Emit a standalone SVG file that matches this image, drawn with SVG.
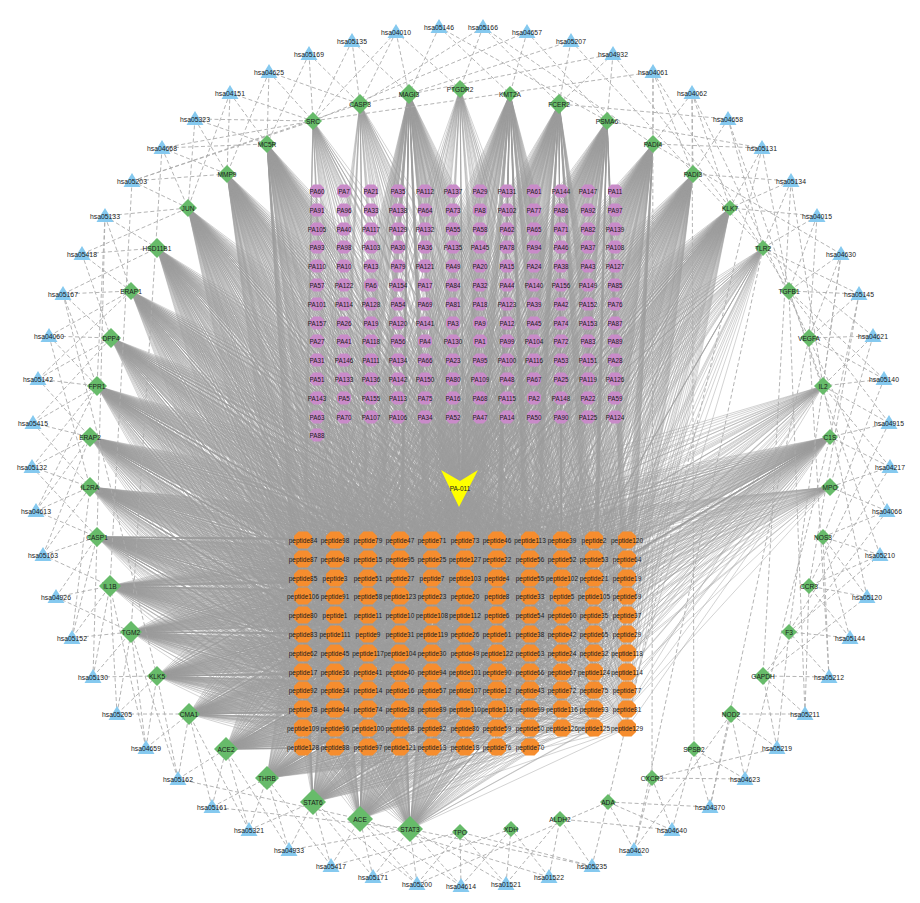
<svg xmlns="http://www.w3.org/2000/svg" xmlns:xlink="http://www.w3.org/1999/xlink" width="920" height="903" viewBox="0 0 920 903">
<style>
text{font-family:'Liberation Sans',Arial,sans-serif;text-anchor:middle;dominant-baseline:central;fill:#1a1a1a}
.pa use{fill:#c98bc9}.pa text{font-size:6.3px}
.pe use{fill:#f68d2e}.pe text{font-size:6.5px}
.tg path{fill:#67bb6a}.tg text{font-size:6.6px}
.pw use{fill:#85c9ef}.pw text{font-size:6.8px}
.fan{fill:none;stroke:#9d9d9d;stroke-width:.45}
.dash{fill:none;stroke:#ababab;stroke-width:.9;stroke-dasharray:4 2.5}
</style>
<defs>
<path id="h" d="M-3.5-6.5h7l3.5 3.5v6l-3.5 3.5h-7l-3.5-3.5v-6z"/>
<path id="o" d="M-4.5-8.5h9l4.5 4.5v8l-4.5 4.5h-9l-4.5-4.5v-8z"/>
<path id="t" d="M0-8l8.5 14h-17z"/>
<path id="O" class="fan" vector-effect="non-scaling-stroke" d="M0 0L303 1M0 0L335 1M0 0L368 1M0 0L400 1M0 0L432 1M0 0L465 1M0 0L497 1M0 0L530 1M0 0L562 1M0 0L594 1M0 0L627 1"/>
<path id="Q" class="fan" vector-effect="non-scaling-stroke" d="M0 0L303 1M0 0L335 1M0 0L368 1M0 0L400 1M0 0L432 1M0 0L465 1M0 0L497 1M0 0L530 1"/>
<path id="P" class="fan" vector-effect="non-scaling-stroke" d="M0 0L317 1M0 0L344 1M0 0L371 1M0 0L398 1M0 0L425 1M0 0L453 1M0 0L480 1M0 0L507 1M0 0L534 1M0 0L561 1M0 0L588 1M0 0L615 1"/>
</defs>
<rect width="920" height="903" fill="#fff"/>
<g id="connectors">
<g id="fans">
<use href="#P" transform="matrix(1 0 -460 -297 460 488)"/><use href="#P" transform="matrix(1 0 -460 -278 460 488)"/><use href="#P" transform="matrix(1 0 -460 -259 460 488)"/><use href="#P" transform="matrix(1 0 -460 -241 460 488)"/><use href="#P" transform="matrix(1 0 -460 -222 460 488)"/><use href="#P" transform="matrix(1 0 -460 -203 460 488)"/><use href="#P" transform="matrix(1 0 -460 -184 460 488)"/><use href="#P" transform="matrix(1 0 -460 -165 460 488)"/><use href="#P" transform="matrix(1 0 -460 -147 460 488)"/><use href="#P" transform="matrix(1 0 -460 -128 460 488)"/><use href="#P" transform="matrix(1 0 -460 -109 460 488)"/><use href="#P" transform="matrix(1 0 -460 -90 460 488)"/><use href="#P" transform="matrix(1 0 -460 -71 460 488)"/>
<path class="fan" d="M460 488L317 435"/>
<use href="#O" transform="matrix(1 0 -460 52 460 488)"/><use href="#O" transform="matrix(1 0 -460 71 460 488)"/><use href="#O" transform="matrix(1 0 -460 90 460 488)"/><use href="#O" transform="matrix(1 0 -460 108 460 488)"/><use href="#O" transform="matrix(1 0 -460 127 460 488)"/><use href="#O" transform="matrix(1 0 -460 146 460 488)"/><use href="#O" transform="matrix(1 0 -460 165 460 488)"/><use href="#O" transform="matrix(1 0 -460 184 460 488)"/><use href="#O" transform="matrix(1 0 -460 202 460 488)"/><use href="#O" transform="matrix(1 0 -460 221 460 488)"/><use href="#O" transform="matrix(1 0 -460 240 460 488)"/><use href="#Q" transform="matrix(1 0 -460 259 460 488)"/>
<use href="#O" transform="matrix(1 0 -131 249 131 291)"/><use href="#O" transform="matrix(1 0 -131 268 131 291)"/><use href="#O" transform="matrix(1 0 -131 287 131 291)"/><use href="#O" transform="matrix(1 0 -131 305 131 291)"/><use href="#O" transform="matrix(1 0 -131 324 131 291)"/><use href="#O" transform="matrix(1 0 -131 343 131 291)"/><use href="#O" transform="matrix(1 0 -131 362 131 291)"/><use href="#O" transform="matrix(1 0 -131 381 131 291)"/><use href="#O" transform="matrix(1 0 -131 399 131 291)"/><use href="#O" transform="matrix(1 0 -131 418 131 291)"/><use href="#O" transform="matrix(1 0 -131 437 131 291)"/><use href="#Q" transform="matrix(1 0 -131 456 131 291)"/>
<use href="#O" transform="matrix(1 0 -111 202 111 338)"/><use href="#O" transform="matrix(1 0 -111 221 111 338)"/><use href="#O" transform="matrix(1 0 -111 240 111 338)"/><use href="#O" transform="matrix(1 0 -111 258 111 338)"/><use href="#O" transform="matrix(1 0 -111 277 111 338)"/><use href="#O" transform="matrix(1 0 -111 296 111 338)"/><use href="#O" transform="matrix(1 0 -111 315 111 338)"/><use href="#O" transform="matrix(1 0 -111 334 111 338)"/><use href="#O" transform="matrix(1 0 -111 352 111 338)"/><use href="#O" transform="matrix(1 0 -111 371 111 338)"/><use href="#O" transform="matrix(1 0 -111 390 111 338)"/><use href="#Q" transform="matrix(1 0 -111 409 111 338)"/>
<use href="#O" transform="matrix(1 0 -97 154 97 386)"/><use href="#O" transform="matrix(1 0 -97 173 97 386)"/><use href="#O" transform="matrix(1 0 -97 192 97 386)"/><use href="#O" transform="matrix(1 0 -97 210 97 386)"/><use href="#O" transform="matrix(1 0 -97 229 97 386)"/><use href="#O" transform="matrix(1 0 -97 248 97 386)"/><use href="#O" transform="matrix(1 0 -97 267 97 386)"/><use href="#O" transform="matrix(1 0 -97 286 97 386)"/><use href="#O" transform="matrix(1 0 -97 304 97 386)"/><use href="#O" transform="matrix(1 0 -97 323 97 386)"/><use href="#O" transform="matrix(1 0 -97 342 97 386)"/><use href="#Q" transform="matrix(1 0 -97 361 97 386)"/>
<use href="#O" transform="matrix(1 0 -90 103 90 437)"/><use href="#O" transform="matrix(1 0 -90 122 90 437)"/><use href="#O" transform="matrix(1 0 -90 141 90 437)"/><use href="#O" transform="matrix(1 0 -90 159 90 437)"/><use href="#O" transform="matrix(1 0 -90 178 90 437)"/><use href="#O" transform="matrix(1 0 -90 197 90 437)"/><use href="#O" transform="matrix(1 0 -90 216 90 437)"/><use href="#O" transform="matrix(1 0 -90 235 90 437)"/><use href="#O" transform="matrix(1 0 -90 253 90 437)"/><use href="#O" transform="matrix(1 0 -90 272 90 437)"/><use href="#O" transform="matrix(1 0 -90 291 90 437)"/><use href="#Q" transform="matrix(1 0 -90 310 90 437)"/>
<use href="#O" transform="matrix(1 0 -90 53 90 487)"/><use href="#O" transform="matrix(1 0 -90 72 90 487)"/><use href="#O" transform="matrix(1 0 -90 91 90 487)"/><use href="#O" transform="matrix(1 0 -90 109 90 487)"/><use href="#O" transform="matrix(1 0 -90 128 90 487)"/><use href="#O" transform="matrix(1 0 -90 147 90 487)"/><use href="#O" transform="matrix(1 0 -90 166 90 487)"/><use href="#O" transform="matrix(1 0 -90 185 90 487)"/><use href="#O" transform="matrix(1 0 -90 203 90 487)"/><use href="#O" transform="matrix(1 0 -90 222 90 487)"/><use href="#O" transform="matrix(1 0 -90 241 90 487)"/><use href="#Q" transform="matrix(1 0 -90 260 90 487)"/>
<use href="#O" transform="matrix(1 0 -97 3 97 537)"/><use href="#O" transform="matrix(1 0 -97 22 97 537)"/><use href="#O" transform="matrix(1 0 -97 41 97 537)"/><use href="#O" transform="matrix(1 0 -97 59 97 537)"/><use href="#O" transform="matrix(1 0 -97 78 97 537)"/><use href="#O" transform="matrix(1 0 -97 97 97 537)"/><use href="#O" transform="matrix(1 0 -97 116 97 537)"/><use href="#O" transform="matrix(1 0 -97 135 97 537)"/><use href="#O" transform="matrix(1 0 -97 153 97 537)"/><use href="#O" transform="matrix(1 0 -97 172 97 537)"/><use href="#O" transform="matrix(1 0 -97 191 97 537)"/><use href="#Q" transform="matrix(1 0 -97 210 97 537)"/>
<use href="#O" transform="matrix(1 0 -110 -46 110 586)"/><use href="#O" transform="matrix(1 0 -110 -27 110 586)"/><use href="#O" transform="matrix(1 0 -110 -8 110 586)"/><use href="#O" transform="matrix(1 0 -110 10 110 586)"/><use href="#O" transform="matrix(1 0 -110 29 110 586)"/><use href="#O" transform="matrix(1 0 -110 48 110 586)"/><use href="#O" transform="matrix(1 0 -110 67 110 586)"/><use href="#O" transform="matrix(1 0 -110 86 110 586)"/><use href="#O" transform="matrix(1 0 -110 104 110 586)"/><use href="#O" transform="matrix(1 0 -110 123 110 586)"/><use href="#O" transform="matrix(1 0 -110 142 110 586)"/><use href="#Q" transform="matrix(1 0 -110 161 110 586)"/>
<use href="#O" transform="matrix(1 0 -131 -92 131 632)"/><use href="#O" transform="matrix(1 0 -131 -73 131 632)"/><use href="#O" transform="matrix(1 0 -131 -54 131 632)"/><use href="#O" transform="matrix(1 0 -131 -36 131 632)"/><use href="#O" transform="matrix(1 0 -131 -17 131 632)"/><use href="#O" transform="matrix(1 0 -131 2 131 632)"/><use href="#O" transform="matrix(1 0 -131 21 131 632)"/><use href="#O" transform="matrix(1 0 -131 40 131 632)"/><use href="#O" transform="matrix(1 0 -131 58 131 632)"/><use href="#O" transform="matrix(1 0 -131 77 131 632)"/><use href="#O" transform="matrix(1 0 -131 96 131 632)"/><use href="#Q" transform="matrix(1 0 -131 115 131 632)"/>
<use href="#O" transform="matrix(1 0 -157 -136 157 676)"/><use href="#O" transform="matrix(1 0 -157 -117 157 676)"/><use href="#O" transform="matrix(1 0 -157 -98 157 676)"/><use href="#O" transform="matrix(1 0 -157 -80 157 676)"/><use href="#O" transform="matrix(1 0 -157 -61 157 676)"/><use href="#O" transform="matrix(1 0 -157 -42 157 676)"/><use href="#O" transform="matrix(1 0 -157 -23 157 676)"/><use href="#O" transform="matrix(1 0 -157 -4 157 676)"/><use href="#O" transform="matrix(1 0 -157 14 157 676)"/><use href="#O" transform="matrix(1 0 -157 33 157 676)"/><use href="#O" transform="matrix(1 0 -157 52 157 676)"/><use href="#Q" transform="matrix(1 0 -157 71 157 676)"/>
<use href="#O" transform="matrix(1 0 -189 -174 189 714)"/><use href="#O" transform="matrix(1 0 -189 -155 189 714)"/><use href="#O" transform="matrix(1 0 -189 -136 189 714)"/><use href="#O" transform="matrix(1 0 -189 -118 189 714)"/><use href="#O" transform="matrix(1 0 -189 -99 189 714)"/><use href="#O" transform="matrix(1 0 -189 -80 189 714)"/><use href="#O" transform="matrix(1 0 -189 -61 189 714)"/><use href="#O" transform="matrix(1 0 -189 -42 189 714)"/><use href="#O" transform="matrix(1 0 -189 -24 189 714)"/><use href="#O" transform="matrix(1 0 -189 -5 189 714)"/><use href="#O" transform="matrix(1 0 -189 14 189 714)"/><use href="#Q" transform="matrix(1 0 -189 33 189 714)"/>
<use href="#O" transform="matrix(1 0 -226 -209 226 749)"/><use href="#O" transform="matrix(1 0 -226 -190 226 749)"/><use href="#O" transform="matrix(1 0 -226 -171 226 749)"/><use href="#O" transform="matrix(1 0 -226 -153 226 749)"/><use href="#O" transform="matrix(1 0 -226 -134 226 749)"/><use href="#O" transform="matrix(1 0 -226 -115 226 749)"/><use href="#O" transform="matrix(1 0 -226 -96 226 749)"/><use href="#O" transform="matrix(1 0 -226 -77 226 749)"/><use href="#O" transform="matrix(1 0 -226 -59 226 749)"/><use href="#O" transform="matrix(1 0 -226 -40 226 749)"/><use href="#O" transform="matrix(1 0 -226 -21 226 749)"/><use href="#Q" transform="matrix(1 0 -226 -2 226 749)"/>
<use href="#O" transform="matrix(1 0 -267 -238 267 778)"/><use href="#O" transform="matrix(1 0 -267 -219 267 778)"/><use href="#O" transform="matrix(1 0 -267 -200 267 778)"/><use href="#O" transform="matrix(1 0 -267 -182 267 778)"/><use href="#O" transform="matrix(1 0 -267 -163 267 778)"/><use href="#O" transform="matrix(1 0 -267 -144 267 778)"/><use href="#O" transform="matrix(1 0 -267 -125 267 778)"/><use href="#O" transform="matrix(1 0 -267 -106 267 778)"/><use href="#O" transform="matrix(1 0 -267 -88 267 778)"/><use href="#O" transform="matrix(1 0 -267 -69 267 778)"/><use href="#O" transform="matrix(1 0 -267 -50 267 778)"/><use href="#Q" transform="matrix(1 0 -267 -31 267 778)"/>
<use href="#O" transform="matrix(1 0 -313 -262 313 802)"/><use href="#O" transform="matrix(1 0 -313 -243 313 802)"/><use href="#O" transform="matrix(1 0 -313 -224 313 802)"/><use href="#O" transform="matrix(1 0 -313 -206 313 802)"/><use href="#O" transform="matrix(1 0 -313 -187 313 802)"/><use href="#O" transform="matrix(1 0 -313 -168 313 802)"/><use href="#O" transform="matrix(1 0 -313 -149 313 802)"/><use href="#O" transform="matrix(1 0 -313 -130 313 802)"/><use href="#O" transform="matrix(1 0 -313 -112 313 802)"/><use href="#O" transform="matrix(1 0 -313 -93 313 802)"/><use href="#O" transform="matrix(1 0 -313 -74 313 802)"/><use href="#Q" transform="matrix(1 0 -313 -55 313 802)"/>
<use href="#O" transform="matrix(1 0 -360 -279 360 819)"/><use href="#O" transform="matrix(1 0 -360 -260 360 819)"/><use href="#O" transform="matrix(1 0 -360 -241 360 819)"/><use href="#O" transform="matrix(1 0 -360 -223 360 819)"/><use href="#O" transform="matrix(1 0 -360 -204 360 819)"/><use href="#O" transform="matrix(1 0 -360 -185 360 819)"/><use href="#O" transform="matrix(1 0 -360 -166 360 819)"/><use href="#O" transform="matrix(1 0 -360 -147 360 819)"/><use href="#O" transform="matrix(1 0 -360 -129 360 819)"/><use href="#O" transform="matrix(1 0 -360 -110 360 819)"/><use href="#O" transform="matrix(1 0 -360 -91 360 819)"/><use href="#Q" transform="matrix(1 0 -360 -72 360 819)"/>
<use href="#O" transform="matrix(1 0 -410 -289 410 829)"/><use href="#O" transform="matrix(1 0 -410 -270 410 829)"/><use href="#O" transform="matrix(1 0 -410 -251 410 829)"/><use href="#O" transform="matrix(1 0 -410 -233 410 829)"/><use href="#O" transform="matrix(1 0 -410 -214 410 829)"/><use href="#O" transform="matrix(1 0 -410 -195 410 829)"/><use href="#O" transform="matrix(1 0 -410 -176 410 829)"/><use href="#O" transform="matrix(1 0 -410 -157 410 829)"/><use href="#O" transform="matrix(1 0 -410 -139 410 829)"/><use href="#O" transform="matrix(1 0 -410 -120 410 829)"/><use href="#O" transform="matrix(1 0 -410 -101 410 829)"/><use href="#Q" transform="matrix(1 0 -410 -82 410 829)"/>
<use href="#O" transform="matrix(1 0 -157 292 157 248)"/><use href="#O" transform="matrix(1 0 -157 311 157 248)"/><use href="#O" transform="matrix(1 0 -157 330 157 248)"/><use href="#O" transform="matrix(1 0 -157 348 157 248)"/><use href="#O" transform="matrix(1 0 -157 367 157 248)"/><use href="#O" transform="matrix(1 0 -157 386 157 248)"/><use href="#O" transform="matrix(1 0 -157 405 157 248)"/><use href="#O" transform="matrix(1 0 -157 424 157 248)"/><use href="#O" transform="matrix(1 0 -157 442 157 248)"/><use href="#O" transform="matrix(1 0 -157 461 157 248)"/><use href="#O" transform="matrix(1 0 -157 480 157 248)"/><use href="#Q" transform="matrix(1 0 -157 499 157 248)"/>
<use href="#O" transform="matrix(1 0 -188 332 188 208)"/><use href="#O" transform="matrix(1 0 -188 351 188 208)"/><use href="#O" transform="matrix(1 0 -188 370 188 208)"/><use href="#O" transform="matrix(1 0 -188 388 188 208)"/><use href="#O" transform="matrix(1 0 -188 407 188 208)"/><use href="#O" transform="matrix(1 0 -188 426 188 208)"/><use href="#O" transform="matrix(1 0 -188 445 188 208)"/><use href="#O" transform="matrix(1 0 -188 464 188 208)"/><use href="#O" transform="matrix(1 0 -188 482 188 208)"/><use href="#O" transform="matrix(1 0 -188 501 188 208)"/><use href="#O" transform="matrix(1 0 -188 520 188 208)"/><use href="#Q" transform="matrix(1 0 -188 539 188 208)"/>
<use href="#O" transform="matrix(1 0 -227 366 227 174)"/><use href="#O" transform="matrix(1 0 -227 385 227 174)"/><use href="#O" transform="matrix(1 0 -227 404 227 174)"/><use href="#O" transform="matrix(1 0 -227 422 227 174)"/><use href="#O" transform="matrix(1 0 -227 441 227 174)"/><use href="#O" transform="matrix(1 0 -227 460 227 174)"/><use href="#O" transform="matrix(1 0 -227 479 227 174)"/><use href="#O" transform="matrix(1 0 -227 498 227 174)"/><use href="#O" transform="matrix(1 0 -227 516 227 174)"/><use href="#O" transform="matrix(1 0 -227 535 227 174)"/><use href="#O" transform="matrix(1 0 -227 554 227 174)"/><use href="#Q" transform="matrix(1 0 -227 573 227 174)"/>
<use href="#O" transform="matrix(1 0 -267 396 267 144)"/><use href="#O" transform="matrix(1 0 -267 415 267 144)"/><use href="#O" transform="matrix(1 0 -267 434 267 144)"/><use href="#O" transform="matrix(1 0 -267 452 267 144)"/><use href="#O" transform="matrix(1 0 -267 471 267 144)"/><use href="#O" transform="matrix(1 0 -267 490 267 144)"/><use href="#O" transform="matrix(1 0 -267 509 267 144)"/><use href="#O" transform="matrix(1 0 -267 528 267 144)"/><use href="#O" transform="matrix(1 0 -267 546 267 144)"/><use href="#O" transform="matrix(1 0 -267 565 267 144)"/><use href="#O" transform="matrix(1 0 -267 584 267 144)"/><use href="#Q" transform="matrix(1 0 -267 603 267 144)"/>
<use href="#O" transform="matrix(1 0 -409 446 409 94)"/><use href="#O" transform="matrix(1 0 -409 465 409 94)"/><use href="#O" transform="matrix(1 0 -409 484 409 94)"/><use href="#O" transform="matrix(1 0 -409 502 409 94)"/><use href="#O" transform="matrix(1 0 -409 521 409 94)"/><use href="#O" transform="matrix(1 0 -409 540 409 94)"/><use href="#O" transform="matrix(1 0 -409 559 409 94)"/><use href="#O" transform="matrix(1 0 -409 578 409 94)"/><use href="#O" transform="matrix(1 0 -409 596 409 94)"/><use href="#O" transform="matrix(1 0 -409 615 409 94)"/><use href="#O" transform="matrix(1 0 -409 634 409 94)"/><use href="#Q" transform="matrix(1 0 -409 653 409 94)"/>
<use href="#O" transform="matrix(1 0 -510 446 510 94)"/><use href="#O" transform="matrix(1 0 -510 465 510 94)"/><use href="#O" transform="matrix(1 0 -510 484 510 94)"/><use href="#O" transform="matrix(1 0 -510 502 510 94)"/><use href="#O" transform="matrix(1 0 -510 521 510 94)"/><use href="#O" transform="matrix(1 0 -510 540 510 94)"/><use href="#O" transform="matrix(1 0 -510 559 510 94)"/><use href="#O" transform="matrix(1 0 -510 578 510 94)"/><use href="#O" transform="matrix(1 0 -510 596 510 94)"/><use href="#O" transform="matrix(1 0 -510 615 510 94)"/><use href="#O" transform="matrix(1 0 -510 634 510 94)"/><use href="#Q" transform="matrix(1 0 -510 653 510 94)"/>
<use href="#O" transform="matrix(1 0 -559 436 559 104)"/><use href="#O" transform="matrix(1 0 -559 455 559 104)"/><use href="#O" transform="matrix(1 0 -559 474 559 104)"/><use href="#O" transform="matrix(1 0 -559 492 559 104)"/><use href="#O" transform="matrix(1 0 -559 511 559 104)"/><use href="#O" transform="matrix(1 0 -559 530 559 104)"/><use href="#O" transform="matrix(1 0 -559 549 559 104)"/><use href="#O" transform="matrix(1 0 -559 568 559 104)"/><use href="#O" transform="matrix(1 0 -559 586 559 104)"/><use href="#O" transform="matrix(1 0 -559 605 559 104)"/><use href="#O" transform="matrix(1 0 -559 624 559 104)"/><use href="#Q" transform="matrix(1 0 -559 643 559 104)"/>
<use href="#O" transform="matrix(1 0 -607 419 607 121)"/><use href="#O" transform="matrix(1 0 -607 438 607 121)"/><use href="#O" transform="matrix(1 0 -607 457 607 121)"/><use href="#O" transform="matrix(1 0 -607 475 607 121)"/><use href="#O" transform="matrix(1 0 -607 494 607 121)"/><use href="#O" transform="matrix(1 0 -607 513 607 121)"/><use href="#O" transform="matrix(1 0 -607 532 607 121)"/><use href="#O" transform="matrix(1 0 -607 551 607 121)"/><use href="#O" transform="matrix(1 0 -607 569 607 121)"/><use href="#O" transform="matrix(1 0 -607 588 607 121)"/><use href="#O" transform="matrix(1 0 -607 607 607 121)"/><use href="#Q" transform="matrix(1 0 -607 626 607 121)"/>
<use href="#O" transform="matrix(1 0 -653 396 653 144)"/><use href="#O" transform="matrix(1 0 -653 415 653 144)"/><use href="#O" transform="matrix(1 0 -653 434 653 144)"/><use href="#O" transform="matrix(1 0 -653 452 653 144)"/><use href="#O" transform="matrix(1 0 -653 471 653 144)"/><use href="#O" transform="matrix(1 0 -653 490 653 144)"/><use href="#O" transform="matrix(1 0 -653 509 653 144)"/><use href="#O" transform="matrix(1 0 -653 528 653 144)"/><use href="#O" transform="matrix(1 0 -653 546 653 144)"/><use href="#O" transform="matrix(1 0 -653 565 653 144)"/><use href="#O" transform="matrix(1 0 -653 584 653 144)"/><use href="#Q" transform="matrix(1 0 -653 603 653 144)"/>
<use href="#O" transform="matrix(1 0 -693 366 693 174)"/><use href="#O" transform="matrix(1 0 -693 385 693 174)"/><use href="#O" transform="matrix(1 0 -693 404 693 174)"/><use href="#O" transform="matrix(1 0 -693 422 693 174)"/><use href="#O" transform="matrix(1 0 -693 441 693 174)"/><use href="#O" transform="matrix(1 0 -693 460 693 174)"/><use href="#O" transform="matrix(1 0 -693 479 693 174)"/><use href="#O" transform="matrix(1 0 -693 498 693 174)"/><use href="#O" transform="matrix(1 0 -693 516 693 174)"/><use href="#O" transform="matrix(1 0 -693 535 693 174)"/><use href="#O" transform="matrix(1 0 -693 554 693 174)"/><use href="#Q" transform="matrix(1 0 -693 573 693 174)"/>
<use href="#O" transform="matrix(1 0 -730 332 730 208)"/><use href="#O" transform="matrix(1 0 -730 351 730 208)"/><use href="#O" transform="matrix(1 0 -730 370 730 208)"/><use href="#O" transform="matrix(1 0 -730 388 730 208)"/><use href="#O" transform="matrix(1 0 -730 407 730 208)"/><use href="#O" transform="matrix(1 0 -730 426 730 208)"/><use href="#O" transform="matrix(1 0 -730 445 730 208)"/><use href="#O" transform="matrix(1 0 -730 464 730 208)"/><use href="#O" transform="matrix(1 0 -730 482 730 208)"/><use href="#O" transform="matrix(1 0 -730 501 730 208)"/><use href="#O" transform="matrix(1 0 -730 520 730 208)"/><use href="#Q" transform="matrix(1 0 -730 539 730 208)"/>
<use href="#O" transform="matrix(1 0 -830 103 830 437)"/><use href="#O" transform="matrix(1 0 -830 122 830 437)"/><use href="#O" transform="matrix(1 0 -830 141 830 437)"/><use href="#O" transform="matrix(1 0 -830 159 830 437)"/><use href="#O" transform="matrix(1 0 -830 178 830 437)"/><use href="#O" transform="matrix(1 0 -830 197 830 437)"/><use href="#O" transform="matrix(1 0 -830 216 830 437)"/><use href="#O" transform="matrix(1 0 -830 235 830 437)"/><use href="#O" transform="matrix(1 0 -830 253 830 437)"/><use href="#O" transform="matrix(1 0 -830 272 830 437)"/><use href="#O" transform="matrix(1 0 -830 291 830 437)"/><use href="#Q" transform="matrix(1 0 -830 310 830 437)"/>
<use href="#O" transform="matrix(1 0 -313 419 313 121)"/><use href="#O" transform="matrix(1 0 -313 475 313 121)"/><use href="#O" transform="matrix(1 0 -313 532 313 121)"/><use href="#O" transform="matrix(1 0 -313 588 313 121)"/>
<use href="#O" transform="matrix(1 0 -360 436 360 104)"/><use href="#O" transform="matrix(1 0 -360 492 360 104)"/><use href="#O" transform="matrix(1 0 -360 549 360 104)"/><use href="#O" transform="matrix(1 0 -360 605 360 104)"/>
<use href="#O" transform="matrix(1 0 -460 451 460 89)"/><use href="#O" transform="matrix(1 0 -460 507 460 89)"/><use href="#O" transform="matrix(1 0 -460 564 460 89)"/><use href="#O" transform="matrix(1 0 -460 620 460 89)"/>
<use href="#O" transform="matrix(1 0 -763 292 763 248)"/><use href="#O" transform="matrix(1 0 -763 348 763 248)"/><use href="#O" transform="matrix(1 0 -763 405 763 248)"/><use href="#O" transform="matrix(1 0 -763 461 763 248)"/>
<use href="#O" transform="matrix(1 0 -830 53 830 487)"/><use href="#O" transform="matrix(1 0 -830 109 830 487)"/><use href="#O" transform="matrix(1 0 -830 166 830 487)"/><use href="#O" transform="matrix(1 0 -830 222 830 487)"/>
<use href="#O" transform="matrix(1 0 -823 154 823 386)"/><use href="#O" transform="matrix(1 0 -823 210 823 386)"/><use href="#O" transform="matrix(1 0 -823 267 823 386)"/><use href="#O" transform="matrix(1 0 -823 323 823 386)"/>
</g>
<path id="pathway-edges" class="dash" d="M439 27L409 94M439 27L510 94M439 27L607 121M483 27L460 89M483 27L559 104M483 27L360 104M483 27L653 144M527 32L510 94M527 32L313 121M527 32L607 121M571 41L559 104M571 41L409 94M571 41L763 248M613 54L607 121M613 54L360 104M613 54L730 208M613 54L559 104M653 72L653 144M653 72L693 174M653 72L789 291M653 72L313 121M653 72L652 778M692 93L653 144M692 93L693 174M692 93L730 208M692 93L809 338M692 93L694 749M728 119L693 174M728 119L559 104M728 119L763 248M728 119L823 386M762 148L730 208M762 148L653 144M762 148L607 121M762 148L789 291M762 148L608 802M791 181L763 248M791 181L730 208M791 181L823 386M791 181L693 174M791 181L763 676M817 216L763 248M817 216L789 291M817 216L809 338M817 216L730 208M841 254L789 291M841 254L823 386M841 254L809 338M841 254L653 144M841 254L789 632M859 294L789 291M859 294L809 338M859 294L763 248M859 294L830 437M859 294L809 586M873 336L809 338M873 336L823 386M873 336L763 248M873 336L830 487M884 379L823 386M884 379L809 338M884 379L789 291M884 379L823 537M889 423L823 386M889 423L830 437M889 423L789 291M889 423L809 586M890 467L830 487M890 467L830 437M890 467L823 386M890 467L789 632M887 511L823 537M887 511L830 487M887 511L809 338M887 511L763 676M880 555L823 537M880 555L809 586M880 555L789 291M880 555L789 632M867 597L809 586M867 597L823 537M867 597L823 386M867 597L763 676M850 638L789 632M850 638L809 586M850 638L823 537M829 677L763 676M829 677L789 632M829 677L823 537M829 677L809 338M805 714L763 676M805 714L809 586M805 714L731 714M805 714L789 291M777 748L789 632M777 748L763 676M777 748L731 714M777 748L652 778M745 779L731 714M745 779L694 749M745 779L652 778M745 779L830 437M710 807L731 714M710 807L694 749M710 807L608 802M710 807L809 338M672 830L652 778M672 830L694 749M672 830L608 802M672 830L560 819M634 850L652 778M634 850L608 802M634 850L763 248M634 850L731 714M592 866L560 819M592 866L608 802M592 866L410 829M592 866L460 832M549 877L560 819M549 877L511 829M549 877L360 819M506 884L511 829M506 884L460 832M506 884L410 829M506 884L560 819M461 886L460 832M461 886L410 829M461 886L511 829M461 886L360 819M417 884L410 829M417 884L360 819M417 884L460 832M417 884L608 802M417 884L313 802M373 877L360 819M373 877L410 829M373 877L313 802M373 877L511 829M331 866L313 802M331 866L360 819M331 866L267 778M331 866L460 832M289 850L267 778M289 850L313 802M289 850L226 749M289 850L410 829M249 830L267 778M249 830L226 749M249 830L313 802M249 830L189 714M212 807L226 749M212 807L267 778M212 807L189 714M212 807L410 829M178 779L189 714M178 779L226 749M178 779L157 676M178 779L131 632M178 779L360 819M146 748L189 714M146 748L157 676M146 748L131 632M146 748L110 586M117 714L157 676M117 714L131 632M117 714L189 714M117 714L110 586M93 677L157 676M93 677L131 632M93 677L110 586M93 677L97 537M72 638L131 632M72 638L110 586M72 638L97 537M72 638L90 487M56 597L110 586M56 597L97 537M56 597L131 632M43 555L97 537M43 555L110 586M43 555L90 487M43 555L90 437M36 511L90 487M36 511L97 537M36 511L90 437M36 511L97 386M32 467L90 487M32 467L90 437M32 467L97 386M32 467L97 537M33 423L90 437M33 423L97 386M33 423L111 338M33 423L90 487M38 379L97 386M38 379L111 338M38 379L90 437M38 379L131 291M49 336L111 338M49 336L97 386M49 336L131 291M49 336L90 487M63 294L131 291M63 294L111 338M63 294L157 248M63 294L97 386M63 294L157 676M82 254L157 248M82 254L131 291M82 254L188 208M82 254L111 338M105 216L188 208M105 216L157 248M105 216L131 291M105 216L97 386M105 216L97 537M132 181L188 208M132 181L227 174M132 181L313 121M132 181L360 104M132 181L110 586M162 148L227 174M162 148L267 144M162 148L188 208M162 148L313 121M162 148L131 632M195 119L267 144M195 119L227 174M195 119L313 121M195 119L188 208M230 93L267 144M230 93L313 121M230 93L227 174M230 93L188 208M269 72L313 121M269 72L267 144M269 72L360 104M269 72L227 174M309 54L313 121M309 54L360 104M309 54L267 144M352 41L360 104M352 41L313 121M352 41L409 94M396 32L409 94M396 32L360 104M396 32L460 89M396 32L313 121"/>
</g>
<g id="PA-011"><polygon points="441,470 460,481 478,470 459,507" fill="#ffff00"/><text x="460" y="488" style="font-size:6.5px">PA-011</text></g>
<g class="pa">
<g id="PA60" transform="translate(317 191)"><use href="#h"/><text>PA60</text></g><g id="PA7" transform="translate(344 191)"><use href="#h"/><text>PA7</text></g><g id="PA21" transform="translate(371 191)"><use href="#h"/><text>PA21</text></g><g id="PA35" transform="translate(398 191)"><use href="#h"/><text>PA35</text></g><g id="PA112" transform="translate(425 191)"><use href="#h"/><text>PA112</text></g><g id="PA137" transform="translate(453 191)"><use href="#h"/><text>PA137</text></g><g id="PA29" transform="translate(480 191)"><use href="#h"/><text>PA29</text></g><g id="PA131" transform="translate(507 191)"><use href="#h"/><text>PA131</text></g><g id="PA61" transform="translate(534 191)"><use href="#h"/><text>PA61</text></g><g id="PA144" transform="translate(561 191)"><use href="#h"/><text>PA144</text></g><g id="PA147" transform="translate(588 191)"><use href="#h"/><text>PA147</text></g><g id="PA11" transform="translate(615 191)"><use href="#h"/><text>PA11</text></g>
<g id="PA91" transform="translate(317 210)"><use href="#h"/><text>PA91</text></g><g id="PA96" transform="translate(344 210)"><use href="#h"/><text>PA96</text></g><g id="PA33" transform="translate(371 210)"><use href="#h"/><text>PA33</text></g><g id="PA138" transform="translate(398 210)"><use href="#h"/><text>PA138</text></g><g id="PA64" transform="translate(425 210)"><use href="#h"/><text>PA64</text></g><g id="PA73" transform="translate(453 210)"><use href="#h"/><text>PA73</text></g><g id="PA8" transform="translate(480 210)"><use href="#h"/><text>PA8</text></g><g id="PA102" transform="translate(507 210)"><use href="#h"/><text>PA102</text></g><g id="PA77" transform="translate(534 210)"><use href="#h"/><text>PA77</text></g><g id="PA86" transform="translate(561 210)"><use href="#h"/><text>PA86</text></g><g id="PA92" transform="translate(588 210)"><use href="#h"/><text>PA92</text></g><g id="PA97" transform="translate(615 210)"><use href="#h"/><text>PA97</text></g>
<g id="PA105" transform="translate(317 229)"><use href="#h"/><text>PA105</text></g><g id="PA40" transform="translate(344 229)"><use href="#h"/><text>PA40</text></g><g id="PA117" transform="translate(371 229)"><use href="#h"/><text>PA117</text></g><g id="PA129" transform="translate(398 229)"><use href="#h"/><text>PA129</text></g><g id="PA132" transform="translate(425 229)"><use href="#h"/><text>PA132</text></g><g id="PA55" transform="translate(453 229)"><use href="#h"/><text>PA55</text></g><g id="PA58" transform="translate(480 229)"><use href="#h"/><text>PA58</text></g><g id="PA62" transform="translate(507 229)"><use href="#h"/><text>PA62</text></g><g id="PA65" transform="translate(534 229)"><use href="#h"/><text>PA65</text></g><g id="PA71" transform="translate(561 229)"><use href="#h"/><text>PA71</text></g><g id="PA82" transform="translate(588 229)"><use href="#h"/><text>PA82</text></g><g id="PA139" transform="translate(615 229)"><use href="#h"/><text>PA139</text></g>
<g id="PA93" transform="translate(317 247)"><use href="#h"/><text>PA93</text></g><g id="PA98" transform="translate(344 247)"><use href="#h"/><text>PA98</text></g><g id="PA103" transform="translate(371 247)"><use href="#h"/><text>PA103</text></g><g id="PA30" transform="translate(398 247)"><use href="#h"/><text>PA30</text></g><g id="PA36" transform="translate(425 247)"><use href="#h"/><text>PA36</text></g><g id="PA135" transform="translate(453 247)"><use href="#h"/><text>PA135</text></g><g id="PA145" transform="translate(480 247)"><use href="#h"/><text>PA145</text></g><g id="PA78" transform="translate(507 247)"><use href="#h"/><text>PA78</text></g><g id="PA94" transform="translate(534 247)"><use href="#h"/><text>PA94</text></g><g id="PA46" transform="translate(561 247)"><use href="#h"/><text>PA46</text></g><g id="PA37" transform="translate(588 247)"><use href="#h"/><text>PA37</text></g><g id="PA108" transform="translate(615 247)"><use href="#h"/><text>PA108</text></g>
<g id="PA110" transform="translate(317 266)"><use href="#h"/><text>PA110</text></g><g id="PA10" transform="translate(344 266)"><use href="#h"/><text>PA10</text></g><g id="PA13" transform="translate(371 266)"><use href="#h"/><text>PA13</text></g><g id="PA79" transform="translate(398 266)"><use href="#h"/><text>PA79</text></g><g id="PA121" transform="translate(425 266)"><use href="#h"/><text>PA121</text></g><g id="PA49" transform="translate(453 266)"><use href="#h"/><text>PA49</text></g><g id="PA20" transform="translate(480 266)"><use href="#h"/><text>PA20</text></g><g id="PA15" transform="translate(507 266)"><use href="#h"/><text>PA15</text></g><g id="PA24" transform="translate(534 266)"><use href="#h"/><text>PA24</text></g><g id="PA38" transform="translate(561 266)"><use href="#h"/><text>PA38</text></g><g id="PA43" transform="translate(588 266)"><use href="#h"/><text>PA43</text></g><g id="PA127" transform="translate(615 266)"><use href="#h"/><text>PA127</text></g>
<g id="PA57" transform="translate(317 285)"><use href="#h"/><text>PA57</text></g><g id="PA122" transform="translate(344 285)"><use href="#h"/><text>PA122</text></g><g id="PA6" transform="translate(371 285)"><use href="#h"/><text>PA6</text></g><g id="PA154" transform="translate(398 285)"><use href="#h"/><text>PA154</text></g><g id="PA17" transform="translate(425 285)"><use href="#h"/><text>PA17</text></g><g id="PA84" transform="translate(453 285)"><use href="#h"/><text>PA84</text></g><g id="PA32" transform="translate(480 285)"><use href="#h"/><text>PA32</text></g><g id="PA44" transform="translate(507 285)"><use href="#h"/><text>PA44</text></g><g id="PA140" transform="translate(534 285)"><use href="#h"/><text>PA140</text></g><g id="PA156" transform="translate(561 285)"><use href="#h"/><text>PA156</text></g><g id="PA149" transform="translate(588 285)"><use href="#h"/><text>PA149</text></g><g id="PA85" transform="translate(615 285)"><use href="#h"/><text>PA85</text></g>
<g id="PA101" transform="translate(317 304)"><use href="#h"/><text>PA101</text></g><g id="PA114" transform="translate(344 304)"><use href="#h"/><text>PA114</text></g><g id="PA128" transform="translate(371 304)"><use href="#h"/><text>PA128</text></g><g id="PA54" transform="translate(398 304)"><use href="#h"/><text>PA54</text></g><g id="PA69" transform="translate(425 304)"><use href="#h"/><text>PA69</text></g><g id="PA81" transform="translate(453 304)"><use href="#h"/><text>PA81</text></g><g id="PA18" transform="translate(480 304)"><use href="#h"/><text>PA18</text></g><g id="PA123" transform="translate(507 304)"><use href="#h"/><text>PA123</text></g><g id="PA39" transform="translate(534 304)"><use href="#h"/><text>PA39</text></g><g id="PA42" transform="translate(561 304)"><use href="#h"/><text>PA42</text></g><g id="PA152" transform="translate(588 304)"><use href="#h"/><text>PA152</text></g><g id="PA76" transform="translate(615 304)"><use href="#h"/><text>PA76</text></g>
<g id="PA157" transform="translate(317 323)"><use href="#h"/><text>PA157</text></g><g id="PA26" transform="translate(344 323)"><use href="#h"/><text>PA26</text></g><g id="PA19" transform="translate(371 323)"><use href="#h"/><text>PA19</text></g><g id="PA120" transform="translate(398 323)"><use href="#h"/><text>PA120</text></g><g id="PA141" transform="translate(425 323)"><use href="#h"/><text>PA141</text></g><g id="PA3" transform="translate(453 323)"><use href="#h"/><text>PA3</text></g><g id="PA9" transform="translate(480 323)"><use href="#h"/><text>PA9</text></g><g id="PA12" transform="translate(507 323)"><use href="#h"/><text>PA12</text></g><g id="PA45" transform="translate(534 323)"><use href="#h"/><text>PA45</text></g><g id="PA74" transform="translate(561 323)"><use href="#h"/><text>PA74</text></g><g id="PA153" transform="translate(588 323)"><use href="#h"/><text>PA153</text></g><g id="PA87" transform="translate(615 323)"><use href="#h"/><text>PA87</text></g>
<g id="PA27" transform="translate(317 341)"><use href="#h"/><text>PA27</text></g><g id="PA41" transform="translate(344 341)"><use href="#h"/><text>PA41</text></g><g id="PA118" transform="translate(371 341)"><use href="#h"/><text>PA118</text></g><g id="PA56" transform="translate(398 341)"><use href="#h"/><text>PA56</text></g><g id="PA4" transform="translate(425 341)"><use href="#h"/><text>PA4</text></g><g id="PA130" transform="translate(453 341)"><use href="#h"/><text>PA130</text></g><g id="PA1" transform="translate(480 341)"><use href="#h"/><text>PA1</text></g><g id="PA99" transform="translate(507 341)"><use href="#h"/><text>PA99</text></g><g id="PA104" transform="translate(534 341)"><use href="#h"/><text>PA104</text></g><g id="PA72" transform="translate(561 341)"><use href="#h"/><text>PA72</text></g><g id="PA83" transform="translate(588 341)"><use href="#h"/><text>PA83</text></g><g id="PA89" transform="translate(615 341)"><use href="#h"/><text>PA89</text></g>
<g id="PA31" transform="translate(317 360)"><use href="#h"/><text>PA31</text></g><g id="PA146" transform="translate(344 360)"><use href="#h"/><text>PA146</text></g><g id="PA111" transform="translate(371 360)"><use href="#h"/><text>PA111</text></g><g id="PA134" transform="translate(398 360)"><use href="#h"/><text>PA134</text></g><g id="PA66" transform="translate(425 360)"><use href="#h"/><text>PA66</text></g><g id="PA23" transform="translate(453 360)"><use href="#h"/><text>PA23</text></g><g id="PA95" transform="translate(480 360)"><use href="#h"/><text>PA95</text></g><g id="PA100" transform="translate(507 360)"><use href="#h"/><text>PA100</text></g><g id="PA116" transform="translate(534 360)"><use href="#h"/><text>PA116</text></g><g id="PA53" transform="translate(561 360)"><use href="#h"/><text>PA53</text></g><g id="PA151" transform="translate(588 360)"><use href="#h"/><text>PA151</text></g><g id="PA28" transform="translate(615 360)"><use href="#h"/><text>PA28</text></g>
<g id="PA51" transform="translate(317 379)"><use href="#h"/><text>PA51</text></g><g id="PA133" transform="translate(344 379)"><use href="#h"/><text>PA133</text></g><g id="PA136" transform="translate(371 379)"><use href="#h"/><text>PA136</text></g><g id="PA142" transform="translate(398 379)"><use href="#h"/><text>PA142</text></g><g id="PA150" transform="translate(425 379)"><use href="#h"/><text>PA150</text></g><g id="PA80" transform="translate(453 379)"><use href="#h"/><text>PA80</text></g><g id="PA109" transform="translate(480 379)"><use href="#h"/><text>PA109</text></g><g id="PA48" transform="translate(507 379)"><use href="#h"/><text>PA48</text></g><g id="PA67" transform="translate(534 379)"><use href="#h"/><text>PA67</text></g><g id="PA25" transform="translate(561 379)"><use href="#h"/><text>PA25</text></g><g id="PA119" transform="translate(588 379)"><use href="#h"/><text>PA119</text></g><g id="PA126" transform="translate(615 379)"><use href="#h"/><text>PA126</text></g>
<g id="PA143" transform="translate(317 398)"><use href="#h"/><text>PA143</text></g><g id="PA5" transform="translate(344 398)"><use href="#h"/><text>PA5</text></g><g id="PA155" transform="translate(371 398)"><use href="#h"/><text>PA155</text></g><g id="PA113" transform="translate(398 398)"><use href="#h"/><text>PA113</text></g><g id="PA75" transform="translate(425 398)"><use href="#h"/><text>PA75</text></g><g id="PA16" transform="translate(453 398)"><use href="#h"/><text>PA16</text></g><g id="PA68" transform="translate(480 398)"><use href="#h"/><text>PA68</text></g><g id="PA115" transform="translate(507 398)"><use href="#h"/><text>PA115</text></g><g id="PA2" transform="translate(534 398)"><use href="#h"/><text>PA2</text></g><g id="PA148" transform="translate(561 398)"><use href="#h"/><text>PA148</text></g><g id="PA22" transform="translate(588 398)"><use href="#h"/><text>PA22</text></g><g id="PA59" transform="translate(615 398)"><use href="#h"/><text>PA59</text></g>
<g id="PA63" transform="translate(317 417)"><use href="#h"/><text>PA63</text></g><g id="PA70" transform="translate(344 417)"><use href="#h"/><text>PA70</text></g><g id="PA107" transform="translate(371 417)"><use href="#h"/><text>PA107</text></g><g id="PA106" transform="translate(398 417)"><use href="#h"/><text>PA106</text></g><g id="PA34" transform="translate(425 417)"><use href="#h"/><text>PA34</text></g><g id="PA52" transform="translate(453 417)"><use href="#h"/><text>PA52</text></g><g id="PA47" transform="translate(480 417)"><use href="#h"/><text>PA47</text></g><g id="PA14" transform="translate(507 417)"><use href="#h"/><text>PA14</text></g><g id="PA50" transform="translate(534 417)"><use href="#h"/><text>PA50</text></g><g id="PA90" transform="translate(561 417)"><use href="#h"/><text>PA90</text></g><g id="PA125" transform="translate(588 417)"><use href="#h"/><text>PA125</text></g><g id="PA124" transform="translate(615 417)"><use href="#h"/><text>PA124</text></g>
<g id="PA88" transform="translate(317 435)"><use href="#h"/><text>PA88</text></g>
</g>
<g class="pe">
<g id="peptide84" transform="translate(303 540)"><use href="#o"/><text>peptide84</text></g><g id="peptide98" transform="translate(335 540)"><use href="#o"/><text>peptide98</text></g><g id="peptide79" transform="translate(368 540)"><use href="#o"/><text>peptide79</text></g><g id="peptide47" transform="translate(400 540)"><use href="#o"/><text>peptide47</text></g><g id="peptide71" transform="translate(432 540)"><use href="#o"/><text>peptide71</text></g><g id="peptide73" transform="translate(465 540)"><use href="#o"/><text>peptide73</text></g><g id="peptide46" transform="translate(497 540)"><use href="#o"/><text>peptide46</text></g><g id="peptide113" transform="translate(530 540)"><use href="#o"/><text>peptide113</text></g><g id="peptide39" transform="translate(562 540)"><use href="#o"/><text>peptide39</text></g><g id="peptide2" transform="translate(594 540)"><use href="#o"/><text>peptide2</text></g><g id="peptide120" transform="translate(627 540)"><use href="#o"/><text>peptide120</text></g>
<g id="peptide87" transform="translate(303 559)"><use href="#o"/><text>peptide87</text></g><g id="peptide48" transform="translate(335 559)"><use href="#o"/><text>peptide48</text></g><g id="peptide15" transform="translate(368 559)"><use href="#o"/><text>peptide15</text></g><g id="peptide95" transform="translate(400 559)"><use href="#o"/><text>peptide95</text></g><g id="peptide25" transform="translate(432 559)"><use href="#o"/><text>peptide25</text></g><g id="peptide127" transform="translate(465 559)"><use href="#o"/><text>peptide127</text></g><g id="peptide22" transform="translate(497 559)"><use href="#o"/><text>peptide22</text></g><g id="peptide56" transform="translate(530 559)"><use href="#o"/><text>peptide56</text></g><g id="peptide52" transform="translate(562 559)"><use href="#o"/><text>peptide52</text></g><g id="peptide53" transform="translate(594 559)"><use href="#o"/><text>peptide53</text></g><g id="peptide64" transform="translate(627 559)"><use href="#o"/><text>peptide64</text></g>
<g id="peptide85" transform="translate(303 578)"><use href="#o"/><text>peptide85</text></g><g id="peptide3" transform="translate(335 578)"><use href="#o"/><text>peptide3</text></g><g id="peptide51" transform="translate(368 578)"><use href="#o"/><text>peptide51</text></g><g id="peptide27" transform="translate(400 578)"><use href="#o"/><text>peptide27</text></g><g id="peptide7" transform="translate(432 578)"><use href="#o"/><text>peptide7</text></g><g id="peptide103" transform="translate(465 578)"><use href="#o"/><text>peptide103</text></g><g id="peptide4" transform="translate(497 578)"><use href="#o"/><text>peptide4</text></g><g id="peptide55" transform="translate(530 578)"><use href="#o"/><text>peptide55</text></g><g id="peptide102" transform="translate(562 578)"><use href="#o"/><text>peptide102</text></g><g id="peptide21" transform="translate(594 578)"><use href="#o"/><text>peptide21</text></g><g id="peptide19" transform="translate(627 578)"><use href="#o"/><text>peptide19</text></g>
<g id="peptide106" transform="translate(303 596)"><use href="#o"/><text>peptide106</text></g><g id="peptide91" transform="translate(335 596)"><use href="#o"/><text>peptide91</text></g><g id="peptide58" transform="translate(368 596)"><use href="#o"/><text>peptide58</text></g><g id="peptide123" transform="translate(400 596)"><use href="#o"/><text>peptide123</text></g><g id="peptide23" transform="translate(432 596)"><use href="#o"/><text>peptide23</text></g><g id="peptide20" transform="translate(465 596)"><use href="#o"/><text>peptide20</text></g><g id="peptide8" transform="translate(497 596)"><use href="#o"/><text>peptide8</text></g><g id="peptide33" transform="translate(530 596)"><use href="#o"/><text>peptide33</text></g><g id="peptide5" transform="translate(562 596)"><use href="#o"/><text>peptide5</text></g><g id="peptide105" transform="translate(594 596)"><use href="#o"/><text>peptide105</text></g><g id="peptide69" transform="translate(627 596)"><use href="#o"/><text>peptide69</text></g>
<g id="peptide80" transform="translate(303 615)"><use href="#o"/><text>peptide80</text></g><g id="peptide1" transform="translate(335 615)"><use href="#o"/><text>peptide1</text></g><g id="peptide11" transform="translate(368 615)"><use href="#o"/><text>peptide11</text></g><g id="peptide10" transform="translate(400 615)"><use href="#o"/><text>peptide10</text></g><g id="peptide108" transform="translate(432 615)"><use href="#o"/><text>peptide108</text></g><g id="peptide112" transform="translate(465 615)"><use href="#o"/><text>peptide112</text></g><g id="peptide6" transform="translate(497 615)"><use href="#o"/><text>peptide6</text></g><g id="peptide54" transform="translate(530 615)"><use href="#o"/><text>peptide54</text></g><g id="peptide60" transform="translate(562 615)"><use href="#o"/><text>peptide60</text></g><g id="peptide35" transform="translate(594 615)"><use href="#o"/><text>peptide35</text></g><g id="peptide37" transform="translate(627 615)"><use href="#o"/><text>peptide37</text></g>
<g id="peptide83" transform="translate(303 634)"><use href="#o"/><text>peptide83</text></g><g id="peptide111" transform="translate(335 634)"><use href="#o"/><text>peptide111</text></g><g id="peptide9" transform="translate(368 634)"><use href="#o"/><text>peptide9</text></g><g id="peptide31" transform="translate(400 634)"><use href="#o"/><text>peptide31</text></g><g id="peptide119" transform="translate(432 634)"><use href="#o"/><text>peptide119</text></g><g id="peptide26" transform="translate(465 634)"><use href="#o"/><text>peptide26</text></g><g id="peptide61" transform="translate(497 634)"><use href="#o"/><text>peptide61</text></g><g id="peptide38" transform="translate(530 634)"><use href="#o"/><text>peptide38</text></g><g id="peptide42" transform="translate(562 634)"><use href="#o"/><text>peptide42</text></g><g id="peptide65" transform="translate(594 634)"><use href="#o"/><text>peptide65</text></g><g id="peptide29" transform="translate(627 634)"><use href="#o"/><text>peptide29</text></g>
<g id="peptide62" transform="translate(303 653)"><use href="#o"/><text>peptide62</text></g><g id="peptide45" transform="translate(335 653)"><use href="#o"/><text>peptide45</text></g><g id="peptide117" transform="translate(368 653)"><use href="#o"/><text>peptide117</text></g><g id="peptide104" transform="translate(400 653)"><use href="#o"/><text>peptide104</text></g><g id="peptide30" transform="translate(432 653)"><use href="#o"/><text>peptide30</text></g><g id="peptide49" transform="translate(465 653)"><use href="#o"/><text>peptide49</text></g><g id="peptide122" transform="translate(497 653)"><use href="#o"/><text>peptide122</text></g><g id="peptide63" transform="translate(530 653)"><use href="#o"/><text>peptide63</text></g><g id="peptide24" transform="translate(562 653)"><use href="#o"/><text>peptide24</text></g><g id="peptide32" transform="translate(594 653)"><use href="#o"/><text>peptide32</text></g><g id="peptide118" transform="translate(627 653)"><use href="#o"/><text>peptide118</text></g>
<g id="peptide17" transform="translate(303 672)"><use href="#o"/><text>peptide17</text></g><g id="peptide36" transform="translate(335 672)"><use href="#o"/><text>peptide36</text></g><g id="peptide41" transform="translate(368 672)"><use href="#o"/><text>peptide41</text></g><g id="peptide40" transform="translate(400 672)"><use href="#o"/><text>peptide40</text></g><g id="peptide94" transform="translate(432 672)"><use href="#o"/><text>peptide94</text></g><g id="peptide101" transform="translate(465 672)"><use href="#o"/><text>peptide101</text></g><g id="peptide90" transform="translate(497 672)"><use href="#o"/><text>peptide90</text></g><g id="peptide66" transform="translate(530 672)"><use href="#o"/><text>peptide66</text></g><g id="peptide67" transform="translate(562 672)"><use href="#o"/><text>peptide67</text></g><g id="peptide124" transform="translate(594 672)"><use href="#o"/><text>peptide124</text></g><g id="peptide114" transform="translate(627 672)"><use href="#o"/><text>peptide114</text></g>
<g id="peptide92" transform="translate(303 690)"><use href="#o"/><text>peptide92</text></g><g id="peptide34" transform="translate(335 690)"><use href="#o"/><text>peptide34</text></g><g id="peptide14" transform="translate(368 690)"><use href="#o"/><text>peptide14</text></g><g id="peptide16" transform="translate(400 690)"><use href="#o"/><text>peptide16</text></g><g id="peptide57" transform="translate(432 690)"><use href="#o"/><text>peptide57</text></g><g id="peptide107" transform="translate(465 690)"><use href="#o"/><text>peptide107</text></g><g id="peptide12" transform="translate(497 690)"><use href="#o"/><text>peptide12</text></g><g id="peptide43" transform="translate(530 690)"><use href="#o"/><text>peptide43</text></g><g id="peptide72" transform="translate(562 690)"><use href="#o"/><text>peptide72</text></g><g id="peptide75" transform="translate(594 690)"><use href="#o"/><text>peptide75</text></g><g id="peptide77" transform="translate(627 690)"><use href="#o"/><text>peptide77</text></g>
<g id="peptide78" transform="translate(303 709)"><use href="#o"/><text>peptide78</text></g><g id="peptide44" transform="translate(335 709)"><use href="#o"/><text>peptide44</text></g><g id="peptide74" transform="translate(368 709)"><use href="#o"/><text>peptide74</text></g><g id="peptide28" transform="translate(400 709)"><use href="#o"/><text>peptide28</text></g><g id="peptide89" transform="translate(432 709)"><use href="#o"/><text>peptide89</text></g><g id="peptide110" transform="translate(465 709)"><use href="#o"/><text>peptide110</text></g><g id="peptide115" transform="translate(497 709)"><use href="#o"/><text>peptide115</text></g><g id="peptide99" transform="translate(530 709)"><use href="#o"/><text>peptide99</text></g><g id="peptide116" transform="translate(562 709)"><use href="#o"/><text>peptide116</text></g><g id="peptide93" transform="translate(594 709)"><use href="#o"/><text>peptide93</text></g><g id="peptide81" transform="translate(627 709)"><use href="#o"/><text>peptide81</text></g>
<g id="peptide109" transform="translate(303 728)"><use href="#o"/><text>peptide109</text></g><g id="peptide96" transform="translate(335 728)"><use href="#o"/><text>peptide96</text></g><g id="peptide100" transform="translate(368 728)"><use href="#o"/><text>peptide100</text></g><g id="peptide68" transform="translate(400 728)"><use href="#o"/><text>peptide68</text></g><g id="peptide82" transform="translate(432 728)"><use href="#o"/><text>peptide82</text></g><g id="peptide86" transform="translate(465 728)"><use href="#o"/><text>peptide86</text></g><g id="peptide59" transform="translate(497 728)"><use href="#o"/><text>peptide59</text></g><g id="peptide50" transform="translate(530 728)"><use href="#o"/><text>peptide50</text></g><g id="peptide126" transform="translate(562 728)"><use href="#o"/><text>peptide126</text></g><g id="peptide125" transform="translate(594 728)"><use href="#o"/><text>peptide125</text></g><g id="peptide129" transform="translate(627 728)"><use href="#o"/><text>peptide129</text></g>
<g id="peptide128" transform="translate(303 747)"><use href="#o"/><text>peptide128</text></g><g id="peptide88" transform="translate(335 747)"><use href="#o"/><text>peptide88</text></g><g id="peptide97" transform="translate(368 747)"><use href="#o"/><text>peptide97</text></g><g id="peptide121" transform="translate(400 747)"><use href="#o"/><text>peptide121</text></g><g id="peptide13" transform="translate(432 747)"><use href="#o"/><text>peptide13</text></g><g id="peptide18" transform="translate(465 747)"><use href="#o"/><text>peptide18</text></g><g id="peptide76" transform="translate(497 747)"><use href="#o"/><text>peptide76</text></g><g id="peptide70" transform="translate(530 747)"><use href="#o"/><text>peptide70</text></g>
</g>
<g class="tg">
<g id="SRC"><path d="M313 112l9 9-9 9-9-9z"/><text x="313" y="121">SRC</text></g>
<g id="CASP3"><path d="M360 94l10 10-10 10-10-10z"/><text x="360" y="104">CASP3</text></g>
<g id="MAGI3"><path d="M409 84l10 10-10 10-10-10z"/><text x="409" y="94">MAGI3</text></g>
<g id="PTGDR2"><path d="M460 80l9 9-9 9-9-9z"/><text x="460" y="89">PTGDR2</text></g>
<g id="KMT2A"><path d="M510 86l8 8-8 8-8-8z"/><text x="510" y="94">KMT2A</text></g>
<g id="FCER2"><path d="M559 94l10 10-10 10-10-10z"/><text x="559" y="104">FCER2</text></g>
<g id="PSMA6"><path d="M607 112l9 9-9 9-9-9z"/><text x="607" y="121">PSMA6</text></g>
<g id="PADI4"><path d="M653 135l9 9-9 9-9-9z"/><text x="653" y="144">PADI4</text></g>
<g id="PADI3"><path d="M693 165l9 9-9 9-9-9z"/><text x="693" y="174">PADI3</text></g>
<g id="KLK7"><path d="M730 200l8 8-8 8-8-8z"/><text x="730" y="208">KLK7</text></g>
<g id="TLR2"><path d="M763 240l8 8-8 8-8-8z"/><text x="763" y="248">TLR2</text></g>
<g id="TGFB1"><path d="M789 282l9 9-9 9-9-9z"/><text x="789" y="291">TGFB1</text></g>
<g id="VEGFA"><path d="M809 329l9 9-9 9-9-9z"/><text x="809" y="338">VEGFA</text></g>
<g id="IL2"><path d="M823 377l9 9-9 9-9-9z"/><text x="823" y="386">IL2</text></g>
<g id="C1S"><path d="M830 429l8 8-8 8-8-8z"/><text x="830" y="437">C1S</text></g>
<g id="MPO"><path d="M830 478l9 9-9 9-9-9z"/><text x="830" y="487">MPO</text></g>
<g id="NOS3"><path d="M823 529l8 8-8 8-8-8z"/><text x="823" y="537">NOS3</text></g>
<g id="CCR3"><path d="M809 578l8 8-8 8-8-8z"/><text x="809" y="586">CCR3</text></g>
<g id="F3"><path d="M789 624l8 8-8 8-8-8z"/><text x="789" y="632">F3</text></g>
<g id="GAPDH"><path d="M763 667l9 9-9 9-9-9z"/><text x="763" y="676">GAPDH</text></g>
<g id="NOD2"><path d="M731 705l9 9-9 9-9-9z"/><text x="731" y="714">NOD2</text></g>
<g id="SPSB2"><path d="M694 741l8 8-8 8-8-8z"/><text x="694" y="749">SPSB2</text></g>
<g id="CXCR3"><path d="M652 770l8 8-8 8-8-8z"/><text x="652" y="778">CXCR3</text></g>
<g id="ADA"><path d="M608 794l8 8-8 8-8-8z"/><text x="608" y="802">ADA</text></g>
<g id="ALDH2"><path d="M560 811l8 8-8 8-8-8z"/><text x="560" y="819">ALDH2</text></g>
<g id="XDH"><path d="M511 821l8 8-8 8-8-8z"/><text x="511" y="829">XDH</text></g>
<g id="TPO"><path d="M460 824l8 8-8 8-8-8z"/><text x="460" y="832">TPO</text></g>
<g id="STAT3"><path d="M410 816l13 13-13 13-13-13z"/><text x="410" y="829">STAT3</text></g>
<g id="ACE"><path d="M360 806l13 13-13 13-13-13z"/><text x="360" y="819">ACE</text></g>
<g id="STAT6"><path d="M313 789l13 13-13 13-13-13z"/><text x="313" y="802">STAT6</text></g>
<g id="THRB"><path d="M267 766l12 12-12 12-12-12z"/><text x="267" y="778">THRB</text></g>
<g id="ACE2"><path d="M226 737l12 12-12 12-12-12z"/><text x="226" y="749">ACE2</text></g>
<g id="CMA1"><path d="M189 703l11 11-11 11-11-11z"/><text x="189" y="714">CMA1</text></g>
<g id="KLK5"><path d="M157 666l10 10-10 10-10-10z"/><text x="157" y="676">KLK5</text></g>
<g id="TGM2"><path d="M131 621l11 11-11 11-11-11z"/><text x="131" y="632">TGM2</text></g>
<g id="IL1B"><path d="M110 575l11 11-11 11-11-11z"/><text x="110" y="586">IL1B</text></g>
<g id="CASP1"><path d="M97 527l10 10-10 10-10-10z"/><text x="97" y="537">CASP1</text></g>
<g id="IL2RA"><path d="M90 477l10 10-10 10-10-10z"/><text x="90" y="487">IL2RA</text></g>
<g id="ERAP2"><path d="M90 427l10 10-10 10-10-10z"/><text x="90" y="437">ERAP2</text></g>
<g id="FPR1"><path d="M97 376l10 10-10 10-10-10z"/><text x="97" y="386">FPR1</text></g>
<g id="DPP4"><path d="M111 328l10 10-10 10-10-10z"/><text x="111" y="338">DPP4</text></g>
<g id="ERAP1"><path d="M131 282l9 9-9 9-9-9z"/><text x="131" y="291">ERAP1</text></g>
<g id="HSD11B1"><path d="M157 238l10 10-10 10-10-10z"/><text x="157" y="248">HSD11B1</text></g>
<g id="JUN"><path d="M188 199l9 9-9 9-9-9z"/><text x="188" y="208">JUN</text></g>
<g id="MMP9"><path d="M227 165l9 9-9 9-9-9z"/><text x="227" y="174">MMP9</text></g>
<g id="MC5R"><path d="M267 135l9 9-9 9-9-9z"/><text x="267" y="144">MC5R</text></g>
</g>
<g class="pw">
<g id="hsa05146"><use href="#t" x="439" y="27"/><text x="439" y="27">hsa05146</text></g>
<g id="hsa05166"><use href="#t" x="483" y="27"/><text x="483" y="27">hsa05166</text></g>
<g id="hsa04657"><use href="#t" x="527" y="32"/><text x="527" y="32">hsa04657</text></g>
<g id="hsa05207"><use href="#t" x="571" y="41"/><text x="571" y="41">hsa05207</text></g>
<g id="hsa04932"><use href="#t" x="613" y="54"/><text x="613" y="54">hsa04932</text></g>
<g id="hsa04061"><use href="#t" x="653" y="72"/><text x="653" y="72">hsa04061</text></g>
<g id="hsa04062"><use href="#t" x="692" y="93"/><text x="692" y="93">hsa04062</text></g>
<g id="hsa04658"><use href="#t" x="728" y="119"/><text x="728" y="119">hsa04658</text></g>
<g id="hsa05131"><use href="#t" x="762" y="148"/><text x="762" y="148">hsa05131</text></g>
<g id="hsa05134"><use href="#t" x="791" y="181"/><text x="791" y="181">hsa05134</text></g>
<g id="hsa04015"><use href="#t" x="817" y="216"/><text x="817" y="216">hsa04015</text></g>
<g id="hsa04630"><use href="#t" x="841" y="254"/><text x="841" y="254">hsa04630</text></g>
<g id="hsa05145"><use href="#t" x="859" y="294"/><text x="859" y="294">hsa05145</text></g>
<g id="hsa04621"><use href="#t" x="873" y="336"/><text x="873" y="336">hsa04621</text></g>
<g id="hsa05140"><use href="#t" x="884" y="379"/><text x="884" y="379">hsa05140</text></g>
<g id="hsa04915"><use href="#t" x="889" y="423"/><text x="889" y="423">hsa04915</text></g>
<g id="hsa04217"><use href="#t" x="890" y="467"/><text x="890" y="467">hsa04217</text></g>
<g id="hsa04066"><use href="#t" x="887" y="511"/><text x="887" y="511">hsa04066</text></g>
<g id="hsa05210"><use href="#t" x="880" y="555"/><text x="880" y="555">hsa05210</text></g>
<g id="hsa05120"><use href="#t" x="867" y="597"/><text x="867" y="597">hsa05120</text></g>
<g id="hsa05144"><use href="#t" x="850" y="638"/><text x="850" y="638">hsa05144</text></g>
<g id="hsa05212"><use href="#t" x="829" y="677"/><text x="829" y="677">hsa05212</text></g>
<g id="hsa05211"><use href="#t" x="805" y="714"/><text x="805" y="714">hsa05211</text></g>
<g id="hsa05219"><use href="#t" x="777" y="748"/><text x="777" y="748">hsa05219</text></g>
<g id="hsa04623"><use href="#t" x="745" y="779"/><text x="745" y="779">hsa04623</text></g>
<g id="hsa04370"><use href="#t" x="710" y="807"/><text x="710" y="807">hsa04370</text></g>
<g id="hsa04640"><use href="#t" x="672" y="830"/><text x="672" y="830">hsa04640</text></g>
<g id="hsa04620"><use href="#t" x="634" y="850"/><text x="634" y="850">hsa04620</text></g>
<g id="hsa05235"><use href="#t" x="592" y="866"/><text x="592" y="866">hsa05235</text></g>
<g id="hsa01522"><use href="#t" x="549" y="877"/><text x="549" y="877">hsa01522</text></g>
<g id="hsa01521"><use href="#t" x="506" y="884"/><text x="506" y="884">hsa01521</text></g>
<g id="hsa04614"><use href="#t" x="461" y="886"/><text x="461" y="886">hsa04614</text></g>
<g id="hsa05200"><use href="#t" x="417" y="884"/><text x="417" y="884">hsa05200</text></g>
<g id="hsa05171"><use href="#t" x="373" y="877"/><text x="373" y="877">hsa05171</text></g>
<g id="hsa05417"><use href="#t" x="331" y="866"/><text x="331" y="866">hsa05417</text></g>
<g id="hsa04933"><use href="#t" x="289" y="850"/><text x="289" y="850">hsa04933</text></g>
<g id="hsa05321"><use href="#t" x="249" y="830"/><text x="249" y="830">hsa05321</text></g>
<g id="hsa05161"><use href="#t" x="212" y="807"/><text x="212" y="807">hsa05161</text></g>
<g id="hsa05162"><use href="#t" x="178" y="779"/><text x="178" y="779">hsa05162</text></g>
<g id="hsa04659"><use href="#t" x="146" y="748"/><text x="146" y="748">hsa04659</text></g>
<g id="hsa05205"><use href="#t" x="117" y="714"/><text x="117" y="714">hsa05205</text></g>
<g id="hsa05130"><use href="#t" x="93" y="677"/><text x="93" y="677">hsa05130</text></g>
<g id="hsa05152"><use href="#t" x="72" y="638"/><text x="72" y="638">hsa05152</text></g>
<g id="hsa04926"><use href="#t" x="56" y="597"/><text x="56" y="597">hsa04926</text></g>
<g id="hsa05163"><use href="#t" x="43" y="555"/><text x="43" y="555">hsa05163</text></g>
<g id="hsa04613"><use href="#t" x="36" y="511"/><text x="36" y="511">hsa04613</text></g>
<g id="hsa05132"><use href="#t" x="32" y="467"/><text x="32" y="467">hsa05132</text></g>
<g id="hsa05415"><use href="#t" x="33" y="423"/><text x="33" y="423">hsa05415</text></g>
<g id="hsa05142"><use href="#t" x="38" y="379"/><text x="38" y="379">hsa05142</text></g>
<g id="hsa04060"><use href="#t" x="49" y="336"/><text x="49" y="336">hsa04060</text></g>
<g id="hsa05167"><use href="#t" x="63" y="294"/><text x="63" y="294">hsa05167</text></g>
<g id="hsa05418"><use href="#t" x="82" y="254"/><text x="82" y="254">hsa05418</text></g>
<g id="hsa05133"><use href="#t" x="105" y="216"/><text x="105" y="216">hsa05133</text></g>
<g id="hsa05203"><use href="#t" x="132" y="181"/><text x="132" y="181">hsa05203</text></g>
<g id="hsa04668"><use href="#t" x="162" y="148"/><text x="162" y="148">hsa04668</text></g>
<g id="hsa05323"><use href="#t" x="195" y="119"/><text x="195" y="119">hsa05323</text></g>
<g id="hsa04151"><use href="#t" x="230" y="93"/><text x="230" y="93">hsa04151</text></g>
<g id="hsa04625"><use href="#t" x="269" y="72"/><text x="269" y="72">hsa04625</text></g>
<g id="hsa05169"><use href="#t" x="309" y="54"/><text x="309" y="54">hsa05169</text></g>
<g id="hsa05135"><use href="#t" x="352" y="41"/><text x="352" y="41">hsa05135</text></g>
<g id="hsa04010"><use href="#t" x="396" y="32"/><text x="396" y="32">hsa04010</text></g>
</g>
</svg>
